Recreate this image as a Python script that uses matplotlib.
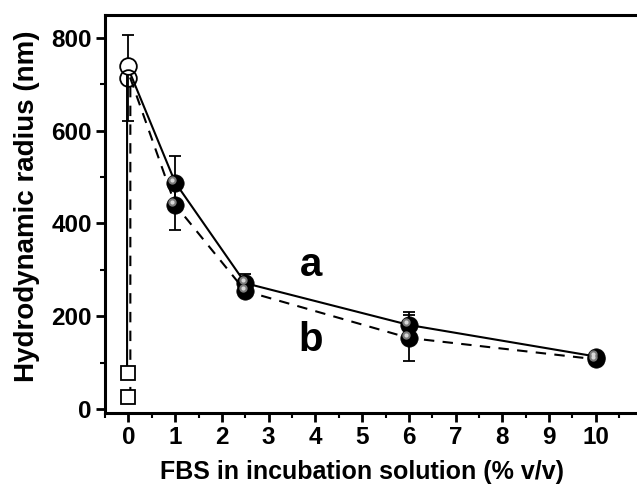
import matplotlib
matplotlib.use("Agg")
import matplotlib.pyplot as plt
from matplotlib.transforms import offset_copy
from matplotlib.ticker import MultipleLocator

plt.rcParams['font.family'] = ['Liberation Sans', 'DejaVu Sans']
plt.rcParams['font.weight'] = 'bold'

# Series a (solid)
a_sq_x = [0.0]
a_sq_y = [78]
a_open_x = [0.0]
a_open_y = [740]
a_fill_x = [1, 2.5, 6, 10]
a_fill_y = [488, 271, 181, 113]
a_fill_err = [58, 20, 29, 6]
a_line_x = [-0.03, -0.03, 1, 2.5, 6, 10]
a_line_y = [78, 740, 488, 271, 181, 113]

# Series b (dashed)
b_sq_x = [0.0]
b_sq_y = [25]
b_open_x = [0.0]
b_open_y = [713]
b_open_err = [93]
b_fill_x = [1, 2.5, 6, 10]
b_fill_y = [440, 254, 153, 107]
b_fill_err = [54, 10, 49, 6]
b_line_x = [0.04, 0.04, 1, 2.5, 6, 10]
b_line_y = [25, 713, 440, 254, 153, 107]

fig = plt.figure(figsize=(6.37, 4.86), dpi=100)
ax = fig.add_axes([0.165, 0.150, 0.835, 0.819])

ax.plot(a_line_x, a_line_y, '-', color='black', lw=1.5, zorder=2)
ax.plot(b_line_x, b_line_y, '--', color='black', lw=1.5, dashes=(5, 4), zorder=2)

# error bars
eb = dict(fmt='none', ecolor='black', elinewidth=1.3, capsize=4, capthick=1.3, zorder=3)
ax.errorbar(a_fill_x, a_fill_y, yerr=a_fill_err, **eb)
ax.errorbar(b_fill_x, b_fill_y, yerr=b_fill_err, **eb)
ax.errorbar(b_open_x, b_open_y, yerr=b_open_err, **eb)

# open markers
ax.plot(a_open_x, a_open_y, 'o', ms=12, mfc='white', mec='black', mew=1.3, zorder=4, linestyle='none')
ax.plot(b_open_x, b_open_y, 'o', ms=12, mfc='none', mec='black', mew=1.3, zorder=4, linestyle='none')
ax.plot(a_sq_x, a_sq_y, 's', ms=9.5, mfc='white', mec='black', mew=1.3, zorder=4, linestyle='none')
ax.plot(b_sq_x, b_sq_y, 's', ms=9.5, mfc='white', mec='black', mew=1.3, zorder=4, linestyle='none')

# shaded spheres
hl = offset_copy(ax.transData, fig=fig, x=-2, y=2, units='points')
for xs, ys in ((b_fill_x, b_fill_y), (a_fill_x, a_fill_y)):
    ax.plot(xs, ys, 'o', ms=12.5, mfc='black', mec='black', mew=0.5, zorder=5, linestyle='none')
    ax.plot(xs, ys, 'o', ms=6, mfc='#7a7a7a', mec='none', zorder=6, linestyle='none', transform=hl)
    ax.plot(xs, ys, 'o', ms=3, mfc='#d8d8d8', mec='none', zorder=7, linestyle='none', transform=hl)

ax.set_xlim(-0.5, 10.88)
ax.set_ylim(-9, 849)
ax.xaxis.set_major_locator(MultipleLocator(1))
ax.xaxis.set_minor_locator(MultipleLocator(0.5))
ax.yaxis.set_major_locator(MultipleLocator(200))
ax.yaxis.set_minor_locator(MultipleLocator(100))

for s in ['left', 'bottom', 'top']:
    ax.spines[s].set_linewidth(2.2)
ax.spines['right'].set_visible(False)
ax.tick_params(which='major', direction='out', length=6.5, width=2, labelsize=17.5, pad=3)
ax.tick_params(which='minor', direction='out', length=3.5, width=1.5)
ax.tick_params(top=False, right=False)
for lab in ax.get_xticklabels() + ax.get_yticklabels():
    lab.set_fontweight('bold')

ax.set_xlabel('FBS in incubation solution (% v/v)', fontsize=18, fontweight='bold')
ax.set_ylabel('Hydrodynamic radius (nm)', fontsize=20, fontweight='bold')
ax.xaxis.set_label_coords(0.483, -0.117)
ax.yaxis.set_label_coords(-0.123, 0.52)

ax.text(3.9, 310, 'a', fontsize=29, fontweight='bold', ha='center', va='center')
ax.text(3.9, 148, 'b', fontsize=29, fontweight='bold', ha='center', va='center')

fig.savefig('out.png', dpi=100)
